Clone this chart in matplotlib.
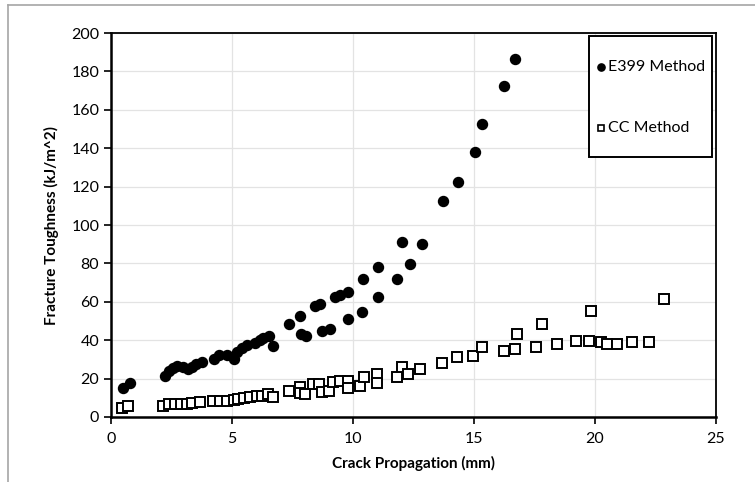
import numpy as np
import matplotlib.pyplot as plt
from matplotlib.lines import Line2D
from matplotlib.patches import Rectangle

plt.rcParams['font.family'] = ['Lato', 'DejaVu Sans']

# E399 method points (crack length mm, toughness kJ/m^2)
e399_x = [0.48, 0.79, 2.23, 2.41, 2.57, 2.74, 2.96, 3.19, 3.33, 3.51, 3.75, 4.26, 4.48, 4.78,
          5.08, 5.19, 5.40, 5.61, 5.95, 6.16, 6.29, 6.53, 6.71, 7.36, 7.81, 7.84, 8.06, 8.43,
          8.64, 8.71, 9.05, 9.26, 9.46, 9.81, 9.81, 10.36, 10.43, 11.05, 11.05, 11.81, 12.01,
          12.36, 12.84, 13.73, 14.35, 15.04, 15.32, 16.24, 16.69]
e399_y = [15.3, 17.6, 21.4, 24.0, 25.4, 26.6, 25.9, 25.0, 26.2, 27.6, 28.8, 30.2, 32.3, 32.3,
          30.0, 34.0, 35.8, 37.5, 38.7, 40.1, 41.0, 42.2, 37.0, 48.3, 52.8, 43.2, 42.2, 58.0,
          58.9, 45.0, 45.8, 62.3, 63.5, 64.9, 50.9, 54.5, 71.9, 78.0, 62.3, 71.9, 91.0,
          79.7, 90.1, 112.7, 122.2, 137.9, 152.6, 172.6, 186.5]

# CC method points
cc_x = [0.47, 0.69, 2.16, 2.40, 2.64, 2.88, 3.13, 3.33, 3.68, 4.23, 4.50, 4.78, 5.10, 5.26,
        5.50, 5.74, 6.02, 6.25, 6.50, 6.71, 7.36, 7.81, 7.79, 8.02, 8.33, 8.61, 8.71, 9.02,
        9.16, 9.46, 9.81, 9.81, 10.29, 10.45, 11.0, 11.0, 11.81, 12.04, 12.29, 12.77, 13.67,
        14.29, 14.97, 15.34, 16.22, 16.71, 16.79, 17.55, 17.81, 18.44, 19.20, 19.74, 19.82,
        20.24, 20.51, 20.92, 21.54, 22.23, 22.85]
cc_y = [4.8, 5.9, 5.7, 6.8, 6.8, 6.8, 6.8, 7.1, 7.7, 8.3, 8.3, 8.3, 8.9, 9.4,
        10.1, 10.6, 10.9, 10.9, 12.0, 10.3, 13.7, 15.4, 12.3, 11.9, 17.2, 17.2, 12.9, 13.7,
        18.4, 18.9, 18.9, 14.9, 16.1, 21.0, 22.4, 17.9, 20.7, 25.9, 22.4, 24.8, 28.3,
        31.1, 31.9, 36.3, 34.5, 35.4, 43.2, 36.3, 48.4, 38.0, 39.7, 39.7, 55.4,
        38.9, 38.0, 38.0, 38.9, 38.9, 61.5]

fig = plt.figure(figsize=(7.55, 4.82), dpi=100)
ax = fig.add_axes([111/755, 1-417/482, 605/755, 384/482])

ax.plot(e399_x, e399_y, 'o', color='black', markersize=7.2, zorder=3)
ax.plot(cc_x, cc_y, 's', markerfacecolor='white', markeredgecolor='black', markeredgewidth=1.4,
        markersize=6.6, zorder=3)

ax.set_xlim(0, 25)
ax.set_ylim(0, 200)
ax.set_xticks(np.arange(0, 26, 5))
ax.set_yticks(np.arange(0, 201, 20))
ax.grid(True, color='#e3e3e3', linewidth=0.9)
ax.set_axisbelow(True)
for s in ['left', 'bottom']:
    ax.spines[s].set_linewidth(1.8)
for s in ['top', 'right']:
    ax.spines[s].set_linewidth(1.3)
ax.tick_params(direction='out', length=5, width=1.2, labelsize=11.5, colors='black')
ax.tick_params(axis='x', pad=6)

ax.set_xlabel('Crack Propagation (mm)', fontsize=11, fontweight='bold', labelpad=7)
ax.set_ylabel('Fracture Toughness (kJ/m^2)', fontsize=11, fontweight='bold', labelpad=9)

# legend box drawn by hand (tall, narrow like the original)
ax.add_patch(Rectangle((0.790, 0.677), 0.203, 0.315, transform=ax.transAxes,
                       facecolor='white', edgecolor='black', linewidth=1.4, zorder=5))
ax.plot([0.810], [0.911], 'o', color='black', markersize=5.2, transform=ax.transAxes,
        clip_on=False, zorder=6)
ax.plot([0.810], [0.753], 's', markerfacecolor='white', markeredgecolor='black',
        markeredgewidth=1.2, markersize=4.8, transform=ax.transAxes, clip_on=False, zorder=6)
ax.text(0.822, 0.911, 'E399 Method', transform=ax.transAxes, fontsize=11.5,
        va='center', ha='left', zorder=6)
ax.text(0.822, 0.753, 'CC Method', transform=ax.transAxes, fontsize=11.5,
        va='center', ha='left', zorder=6)

# light frame round the chart area
fig.add_artist(Line2D([8/755, 8/755], [0, 1-5/482], color='#a6a6a6', linewidth=1.2))
fig.add_artist(Line2D([8/755, 1], [1-5/482, 1-5/482], color='#a6a6a6', linewidth=1.2))

fig.savefig('out.png', dpi=100)
